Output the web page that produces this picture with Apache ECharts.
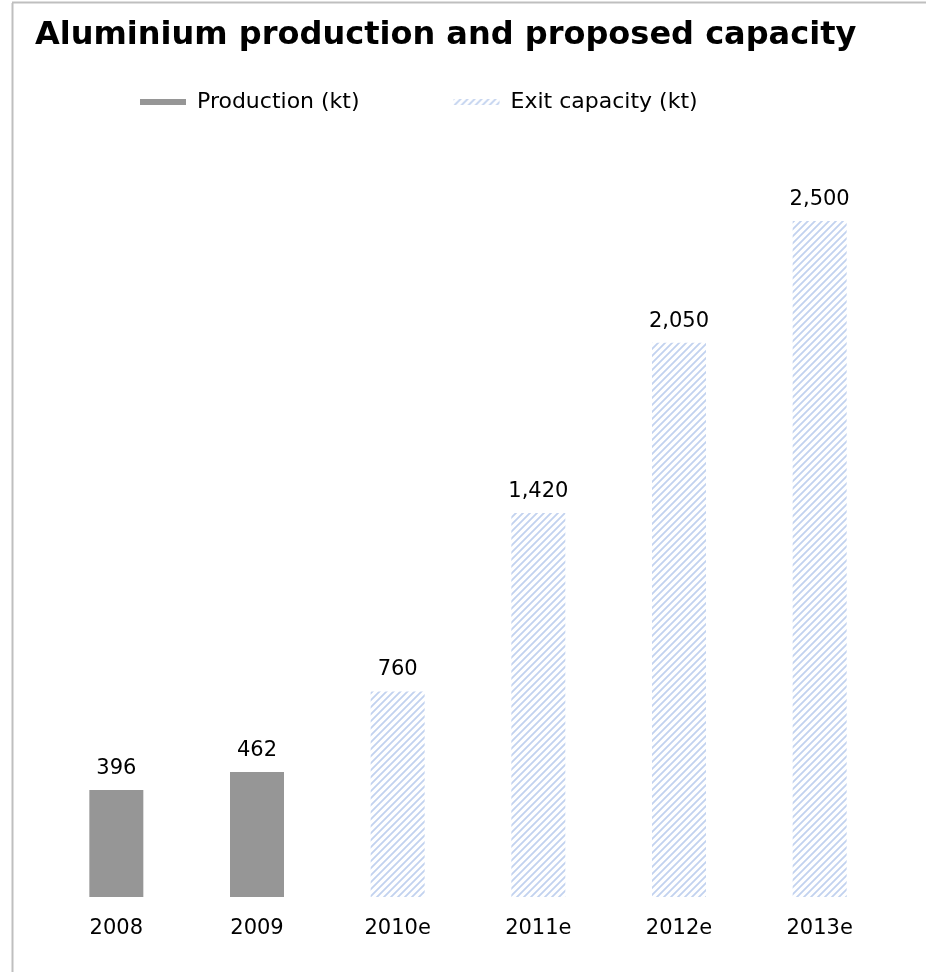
<!DOCTYPE html>
<html><head><meta charset="utf-8">
<script src="https://cdn.jsdelivr.net/npm/echarts@6/dist/echarts.min.js"></script>
<style>html,body{margin:0;padding:0;background:#fff}#c{width:926px;height:972px}</style>
</head><body><div id="c"></div>
<script>
const categories = ['2008','2009','2010e','2011e','2012e','2013e'];
const production = [396, 462, null, null, null, null];
const exitCapacity = [null, null, 760, 1420, 2050, 2500];

function hatch() {
  const s = 7, c = document.createElement('canvas');
  c.width = s; c.height = s;
  const g = c.getContext('2d');
  g.fillStyle = '#ffffff'; g.fillRect(0,0,s,s);
  g.strokeStyle = '#c2d2ef'; g.lineWidth = 1.8;
  g.beginPath();
  g.moveTo(-1, s+1); g.lineTo(s+1, -1);
  g.moveTo(-1, 1); g.lineTo(1, -1);
  g.moveTo(s-1, s+1); g.lineTo(s+1, s-1);
  g.stroke();
  return c;
}
const pat = {image: hatch(), repeat: 'repeat'};
const FONT = 'DejaVu Sans';
const fmt = p => p.value.toLocaleString('en-US');
const chart = echarts.init(document.getElementById('c'));
chart.setOption({
  animation: false,
  title: {text: 'Aluminium production and proposed capacity', left: 30, top: 15,
    textStyle: {fontFamily: FONT, fontWeight: 'bold', fontSize: 32, color: '#000'}},
  legend: {top: 91, left: 140, padding: 0, itemWidth: 46, itemHeight: 6, itemGap: 94,
    textStyle: {fontFamily: FONT, fontSize: 22, color: '#000', padding: [0, 0, 0, 6]},
    data: [{name: 'Production (kt)', icon: 'rect'}, {name: 'Exit capacity (kt)', icon: 'rect'}]},
  grid: {left: 46, right: 36, top: 221, bottom: 75},
  xAxis: {type: 'category', data: categories,
    axisLine: {show: false}, axisTick: {show: false},
    axisLabel: {fontFamily: FONT, fontSize: 21, color: '#000', margin: 21}},
  yAxis: {type: 'value', min: 0, max: 2500, show: false, splitLine: {show: false}},
  series: [
    {name: 'Production (kt)', type: 'bar', data: production, barWidth: 54, barGap: '-100%',
      itemStyle: {color: '#969696'},
      label: {show: true, position: 'top', distance: 11, fontFamily: FONT, fontSize: 21, color: '#000', formatter: fmt}},
    {name: 'Exit capacity (kt)', type: 'bar', data: exitCapacity, barWidth: 54, barGap: '-100%',
      itemStyle: {color: pat},
      label: {show: true, position: 'top', distance: 11, fontFamily: FONT, fontSize: 21, color: '#000', formatter: fmt}}
  ],
  graphic: [
    {type: 'line', shape: {x1: 12.5, y1: 3, x2: 12.5, y2: 972}, style: {stroke: '#bfbfbf', lineWidth: 2}},
    {type: 'line', shape: {x1: 12, y1: 2.5, x2: 926, y2: 2.5}, style: {stroke: '#bfbfbf', lineWidth: 2}}
  ]
});
</script></body></html>
